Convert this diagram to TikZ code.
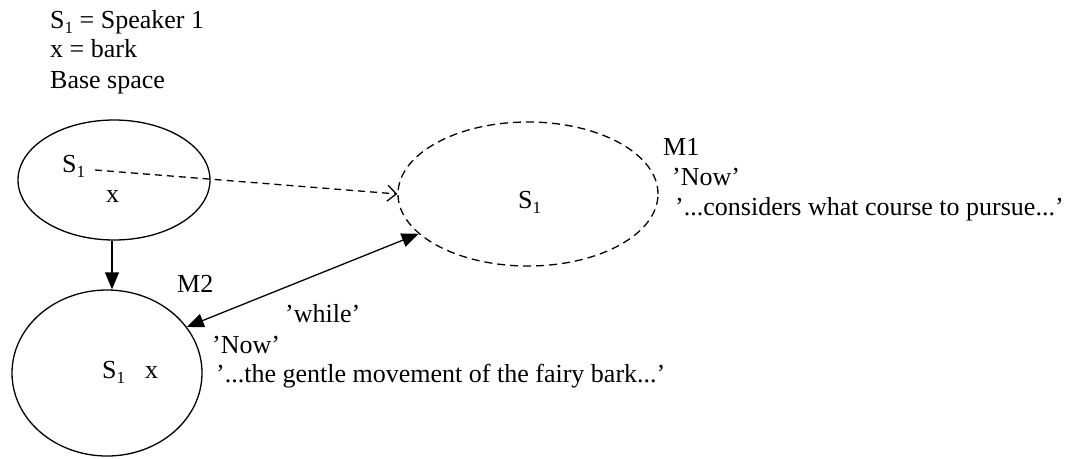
\documentclass[tikz,border=0pt]{standalone}
\usepackage{fontspec}
\setmainfont{Liberation Serif}
\usetikzlibrary{shapes.geometric,arrows.meta}
\newcommand\mysub[1]{\raisebox{-0.2em}{\fontsize{17}{17}\selectfont #1}}
\tikzset{
  lbl/.style={anchor=base west, inner sep=0pt, font=\fontsize{26}{30}\selectfont},
  space/.style={ellipse, draw, line width=1.3pt, inner sep=0pt},
  dashspace/.style={space, dash pattern=on 8pt off 5pt},
  solidarrow/.style={line width=1.3pt, -{Triangle[length=17pt,width=14pt]}},
  bothsolid/.style={line width=1.3pt, {Triangle[length=17pt,width=14pt]}-{Triangle[length=17pt,width=14pt]}},
  dasharrow/.style={line width=1.3pt, dash pattern=on 7pt off 5pt, -{Straight Barb[length=9pt,width=16pt,line width=1.3pt]}}
}
\begin{document}
\begin{tikzpicture}[x=1pt,y=-1pt]
\useasboundingbox (0,0) rectangle (1073,458);
% legend
\node[lbl] (t1) at (50,28) {S\mysub{1} = Speaker 1};
\node[lbl] (t2) at (50,57) {x = bark};
\node[lbl] (t3) at (50,88) {Base space};
% base space
\node[space, minimum width=192pt, minimum height=120pt] (base) at (114,180) {};
\node[lbl] (bs) at (62,172) {S\mysub{1}};
\node[lbl] (bx) at (106,202) {x};
\coordinate (dstart) at (95,170);
% M1
\node[dashspace, minimum width=260pt, minimum height=144pt] (m1) at (528,194) {};
\node[lbl] (m1s) at (518,208) {S\mysub{1}};
\node[lbl] (m1l) at (663,155) {M1};
\node[lbl] (m1n) at (672,185) {’Now’};
\node[lbl] (m1t) at (675,215) {’...considers what course to pursue...’};
% M2
\node[space, minimum width=190pt, minimum height=166pt] (m2) at (107,373) {};
\node[lbl] (m2s) at (102,378) {S\mysub{1}};
\node[lbl] (m2x) at (145,378) {x};
\node[lbl] (m2l) at (177,292) {M2};
\node[lbl] (wh) at (285,322) {’while’};
\node[lbl] (m2n) at (212,353) {’Now’};
\node[lbl] (m2t) at (216,382) {’...the gentle movement of the fairy bark...’};
% connectors
\draw[dasharrow] (dstart) -- (m1.west);
\draw[solidarrow] (base.south -| 112,0) -- (m2.north -| 112,0);
\draw[bothsolid] (m2.30.6) -- (m1.200);
\end{tikzpicture}
\end{document}
